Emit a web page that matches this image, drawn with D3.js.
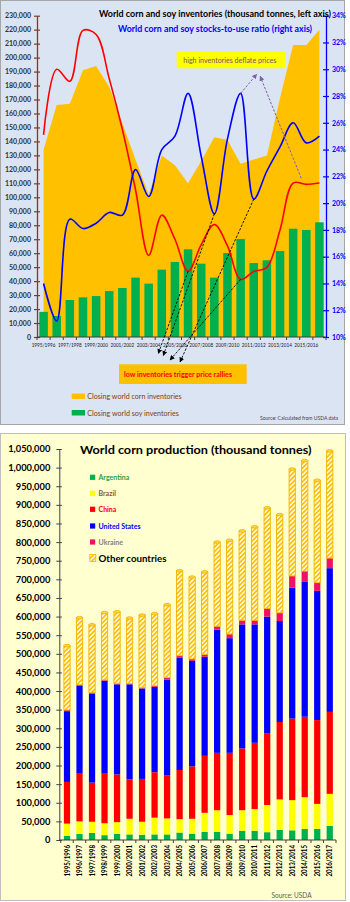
<!DOCTYPE html>
<html><head><meta charset="utf-8">
<script src="https://cdn.jsdelivr.net/npm/d3@7"></script>
<style>body{margin:0;background:#fff}svg{display:block}text{font-family:Lato,"Open Sans",sans-serif}</style>
</head><body><svg id="c" width="350" height="902"></svg>
<script>
// ---------- DATA ----------
const seasons = ["1995/1996","1996/1997","1997/1998","1998/1999","1999/2000","2000/2001","2001/2002","2002/2003","2003/2004","2004/2005","2005/2006","2006/2007","2007/2008","2008/2009","2009/2010","2010/2011","2011/2012","2012/2013","2013/2014","2014/2015","2015/2016","2016/2017"];
// top chart (thousand tonnes / %)
const cornStocks = [134000,166000,167000,191000,194000,179000,153000,127000,102000,130000,123000,110000,126000,143000,141000,124000,127000,130000,171000,209000,209000,220000];
const soyStocks = [18000,15000,26500,28400,29300,32900,35100,42500,38200,48200,53700,62800,52500,42500,60100,70200,53000,54900,61600,77500,76600,82100];
const cornStocksToUse = [25.1,30.0,29.1,32.9,32.6,29.3,25.5,21.0,16.1,19.1,17.3,14.9,16.9,18.4,16.8,14.3,14.9,15.2,18.0,21.5,21.4,21.5];
const soyStocksToUse = [14.0,11.2,18.8,18.1,18.5,19.3,19.1,22.5,20.5,24.0,25.0,28.2,23.5,19.2,24.8,28.2,20.3,22.4,24.2,26.0,24.5,25.0];
const leftTicks = d3.range(0, 230001, 10000);
const rightTicks = [0.10,0.12,0.14,0.16,0.18,0.20,0.22,0.24,0.26,0.28,0.30,0.32,0.34];
// bottom chart (thousand tonnes)
const countries = ["Argentina","Brazil","China","United States","Ukraine","Other countries"];
const argentina = [11000,16000,19000,13000,17000,15000,14000,15000,15000,20000,17000,22000,22000,17000,25000,25000,21000,27000,26000,30000,30000,38000];
const brazil = [33000,34000,30000,32000,31000,42000,35000,45000,43000,36000,40000,51000,58000,50000,55000,58000,73000,82000,81000,85000,67000,86000];
const china = [112000,128000,105000,133000,128000,106000,115000,122000,115000,132000,141000,153000,154000,167000,166000,178000,193000,208000,219000,216000,225000,220000];
const unitedStates = [190000,236000,239000,250000,242000,255000,243000,229000,258000,301000,283000,266000,331000,308000,333000,318000,313000,271000,352000,362000,347000,386000];
const ukraine = [3000,3000,3000,2000,2000,2000,2000,3000,5000,6000,5000,6000,9000,11000,11000,11000,22000,22000,31000,29000,22000,27000];
const otherCountries = [173000,180000,182000,181000,193000,176000,195000,194000,196000,228000,220000,222000,226000,252000,240000,251000,270000,264000,287000,297000,275000,288000];
const prodTicks = d3.range(0, 1050001, 50000);

// ---------- SETUP ----------
const svg = d3.select("#c");
const defs = svg.append("defs");
const hatch = defs.append("pattern").attr("id","hatch").attr("patternUnits","userSpaceOnUse")
  .attr("width",3.2).attr("height",3.2).attr("patternTransform","rotate(45)");
hatch.append("rect").attr("width",3.2).attr("height",3.2).attr("fill","#ffffff");
hatch.append("rect").attr("width",1.8).attr("height",3.2).attr("fill","#ffc000");
function marker(id, color){
  defs.append("marker").attr("id",id).attr("viewBox","0 0 10 10").attr("refX",9).attr("refY",5)
    .attr("markerWidth",5).attr("markerHeight",5).attr("markerUnits","userSpaceOnUse").attr("orient","auto")
    .append("path").attr("d","M0,0L10,5L0,10z").attr("fill",color);
}
marker("mp","#7f5fa8"); marker("mb","#000");

// panels
svg.append("rect").attr("x",0.5).attr("y",0.5).attr("width",344).attr("height",424)
  .attr("fill","#dbe4f2").attr("stroke","#a6a6a6");
svg.append("rect").attr("x",0.5).attr("y",433.5).attr("width",345).attr("height",467)
  .attr("fill","#ffffcf").attr("stroke","#bfbfbf");

// ---------- TOP CHART ----------
const x1 = d3.scaleBand().domain(seasons).range([37,326]).paddingInner(0.35).paddingOuter(0.175);
const yL = d3.scaleLinear().domain([0,230000]).range([337,15.7]);
const yR = d3.scaleLinear().domain([0.10,0.34]).range([337,15.7]);
const c1 = s => x1(s) + x1.bandwidth()/2;
const gTop = svg.append("g");

gTop.append("path").datum(seasons)
  .attr("d", d3.area().x(s=>c1(s)).y0(yL(0)).y1((s,i)=>yL(cornStocks[i])))
  .attr("fill","#ffc000");
gTop.selectAll("rect.soy").data(seasons).join("rect").attr("class","soy")
  .attr("x",s=>x1(s)).attr("width",x1.bandwidth())
  .attr("y",(s,i)=>yL(soyStocks[i])).attr("height",(s,i)=>yL(0)-yL(soyStocks[i]))
  .attr("fill","#00b050");
const lineR = arr => d3.line().x(s=>c1(s)).y((s,i)=>yR(arr[i]/100)).curve(d3.curveCatmullRom.alpha(0.5));
gTop.append("path").datum(seasons).attr("d",lineR(cornStocksToUse)).attr("fill","none").attr("stroke","#ff0000").attr("stroke-width",1.6);
gTop.append("path").datum(seasons).attr("d",lineR(soyStocksToUse)).attr("fill","none").attr("stroke","#0000ff").attr("stroke-width",1.6);

// left axis
const gl = gTop.append("g").attr("transform",`translate(${x1.range()[0]},0)`)
  .call(d3.axisLeft(yL).tickValues(leftTicks).tickFormat(d3.format(",")).tickSizeInner(3).tickSizeOuter(0).tickPadding(3));
gl.select(".domain").attr("stroke","#8b3a0f").attr("stroke-width",1.3);
gl.selectAll(".tick line").attr("x1",3).attr("stroke","#8b3a0f").attr("stroke-width",1.2);
gl.selectAll(".tick text").attr("font-size",7).attr("font-weight","bold").attr("fill","#333")
  .attr("font-family","Lato,sans-serif");
// right axis
const gr = gTop.append("g").attr("transform",`translate(${x1.range()[1]},0)`)
  .call(d3.axisRight(yR).tickValues(rightTicks).tickFormat(d3.format(".0%")).tickSizeInner(3).tickSizeOuter(0).tickPadding(3));
gr.select(".domain").attr("stroke","#0000ff").attr("stroke-width",1.3);
gr.selectAll(".tick line").attr("x1",-3).attr("stroke","#0000ff").attr("stroke-width",1.2);
gr.selectAll(".tick text").attr("font-size",7).attr("font-weight","bold").attr("fill","#0000ff")
  .attr("font-family","Lato,sans-serif");
// x axis
const r1 = x1.range();
gTop.append("line").attr("x1",r1[0]).attr("x2",r1[1]).attr("y1",yL(0)).attr("y2",yL(0)).attr("stroke","#404040").attr("stroke-width",1);
gTop.selectAll("line.xt").data(d3.range(seasons.length+1)).join("line").attr("class","xt")
  .attr("x1",i=>r1[0]+i*x1.step()).attr("x2",i=>r1[0]+i*x1.step())
  .attr("y1",yL(0)).attr("y2",yL(0)+3).attr("stroke","#404040");
gTop.selectAll("text.xl").data(seasons.filter((s,i)=>i%2===0)).join("text").attr("class","xl")
  .attr("x",s=>c1(s)).attr("y",yL(0)+10).attr("text-anchor","middle")
  .attr("font-size",5.2).attr("fill","#222").attr("textLength",x1.step()*2-2.4).attr("lengthAdjust","spacingAndGlyphs")
  .text(s=>s);

// titles
gTop.append("text").attr("x",99).attr("y",16.5).attr("font-size",9).attr("font-weight","bold").attr("fill","#000")
  .attr("textLength",232).attr("lengthAdjust","spacingAndGlyphs")
  .text("World corn and soy inventories (thousand tonnes, left axis)");
gTop.append("text").attr("x",118).attr("y",31.5).attr("font-size",9).attr("font-weight","bold").attr("fill","#0000ff")
  .attr("textLength",194).attr("lengthAdjust","spacingAndGlyphs")
  .text("World corn and soy stocks-to-use ratio (right axis)");

// annotation: high inventories
const hiBox = {x:176.7, y:51.7, w:108.3, h:16.6};
gTop.append("rect").attr("x",hiBox.x).attr("y",hiBox.y).attr("width",hiBox.w).attr("height",hiBox.h).attr("fill","#ffff00");
gTop.append("text").attr("x",hiBox.x+6.6).attr("y",hiBox.y+11.3).attr("font-size",6.8).attr("fill","#7a4f6e")
  .attr("textLength",93).attr("lengthAdjust","spacingAndGlyphs").text("high inventories deflate prices");
const hiArrows = [
  {from:[c1("2010/2011"), yR(soyStocksToUse[15]/100)], to:[hiBox.x+80, hiBox.y+hiBox.h+6]},
  {from:[c1("2015/2016")-5, yR(cornStocksToUse[20]/100)-6], to:[hiBox.x+83.5, hiBox.y+hiBox.h+8]}
];
gTop.selectAll("line.ha").data(hiArrows).join("line").attr("class","ha")
  .attr("x1",d=>d.from[0]).attr("y1",d=>d.from[1]).attr("x2",d=>d.to[0]).attr("y2",d=>d.to[1])
  .attr("stroke","#7f5fa8").attr("stroke-width",1).attr("stroke-dasharray","2.5,1.5").attr("marker-end","url(#mp)");

// annotation: low inventories
const loBox = {x:119, y:364.3, w:127.7, h:19.7};
gTop.append("rect").attr("x",loBox.x).attr("y",loBox.y).attr("width",loBox.w).attr("height",loBox.h).attr("fill","#ffc000");
gTop.append("text").attr("x",loBox.x+5).attr("y",loBox.y+12.8).attr("font-size",7.2).attr("font-weight","bold").attr("fill","#ff0000")
  .attr("textLength",108).attr("lengthAdjust","spacingAndGlyphs").text("low inventories trigger price rallies");
const loArrows = [
  {from:[c1("2006/2007"), yR(cornStocksToUse[11]/100)], to:[158.3,353.5]},
  {from:[c1("2008/2009"), yR(soyStocksToUse[13]/100)], to:[163.3,355.5]},
  {from:[c1("2010/2011"), yR(cornStocksToUse[15]/100)], to:[170,360]},
  {from:[c1("2011/2012"), yR(soyStocksToUse[16]/100)], to:[180,362]}
];
gTop.selectAll("line.la").data(loArrows).join("line").attr("class","la")
  .attr("x1",d=>d.from[0]).attr("y1",d=>d.from[1]).attr("x2",d=>d.to[0]).attr("y2",d=>d.to[1])
  .attr("stroke","#000").attr("stroke-width",0.9).attr("stroke-dasharray","2.5,1.5").attr("marker-end","url(#mb)");

// legend top
const topLegend = [{label:"Closing world corn inventories", color:"#ffc000"},{label:"Closing world soy inventories", color:"#00b050"}];
topLegend.forEach((d,i)=>{
  const y = 393.5 + i*16.5;
  gTop.append("rect").attr("x",71.7).attr("y",y).attr("width",13.3).attr("height",5.5).attr("fill",d.color);
  gTop.append("text").attr("x",87.3).attr("y",y+5.5).attr("font-size",7.2).attr("fill","#843c0c")
    .attr("textLength",i===0?94.4:91.5).attr("lengthAdjust","spacingAndGlyphs").text(d.label);
});
gTop.append("text").attr("x",338).attr("y",420).attr("text-anchor","end").attr("font-size",5.2).attr("fill","#404040")
  .attr("textLength",78).attr("lengthAdjust","spacingAndGlyphs").text("Source: Calculated from USDA data");

// ---------- BOTTOM CHART ----------
const x2 = d3.scaleBand().domain(seasons).range([60.75,336]).paddingInner(0.5).paddingOuter(0.25);
const y2 = d3.scaleLinear().domain([0,1050000]).range([840,449]);
const c2 = s => x2(s) + x2.bandwidth()/2;
const gBot = svg.append("g");
const series = [argentina, brazil, china, unitedStates, ukraine, otherCountries];
const rows = seasons.map((s,i)=>{ const r={season:s}; countries.forEach((c,k)=>r[c]=series[k][i]); return r; });
const stacked = d3.stack().keys(countries)(rows);
const fills = {"Argentina":"#00b050","Brazil":"#ffff00","China":"#ff0000","United States":"#0000ff","Ukraine":"#ee1166","Other countries":"url(#hatch)"};

stacked.forEach(layer=>{
  const isOther = layer.key==="Other countries";
  gBot.selectAll(null).data(layer).join("rect")
    .attr("x",d=>x2(d.data.season)).attr("width",x2.bandwidth())
    .attr("y",d=>y2(d[1])).attr("height",d=>y2(d[0])-y2(d[1]))
    .attr("fill",fills[layer.key])
    .attr("stroke",isOther?"#f0b400":"none").attr("stroke-width",isOther?0.9:0);
  if(isOther){
    gBot.selectAll(null).data(layer).join("ellipse")
      .attr("cx",d=>c2(d.data.season)).attr("cy",d=>y2(d[1]))
      .attr("rx",x2.bandwidth()/2).attr("ry",1.3)
      .attr("fill","#ffd54a").attr("stroke","#f0b400").attr("stroke-width",0.8);
  }
});

// y axis
const gy2 = gBot.append("g").attr("transform",`translate(59.3,0)`)
  .call(d3.axisLeft(y2).tickValues(prodTicks).tickFormat(d3.format(",")).tickSizeInner(3).tickSizeOuter(0).tickPadding(6));
gy2.select(".domain").attr("stroke","#404040");
gy2.selectAll(".tick line").attr("x1",2.5).attr("stroke","#404040");
gy2.selectAll(".tick text").attr("font-size",9.3).attr("font-weight","bold").attr("fill","#000").attr("font-family","Lato,sans-serif");
// x axis
const r2 = x2.range();
gBot.append("line").attr("x1",59.3).attr("x2",r2[1]).attr("y1",y2(0)).attr("y2",y2(0)).attr("stroke","#404040");
gBot.selectAll("line.xt2").data(d3.range(seasons.length+1)).join("line").attr("class","xt2")
  .attr("x1",i=>r2[0]+i*x2.step()).attr("x2",i=>r2[0]+i*x2.step())
  .attr("y1",y2(0)).attr("y2",y2(0)+3).attr("stroke","#404040");
gBot.selectAll("text.xl2").data(seasons).join("text").attr("class","xl2")
  .attr("transform",s=>`translate(${c2(s)+2.6},${y2(0)+5}) rotate(-90)`)
  .attr("text-anchor","end").attr("font-size",7.6).attr("font-weight","bold").attr("fill","#000")
  .attr("textLength",31.5).attr("lengthAdjust","spacingAndGlyphs").text(s=>s);

// title
gBot.append("text").attr("x",80).attr("y",453.5).attr("font-size",11).attr("font-weight","bold").attr("fill","#000")
  .attr("textLength",231.5).attr("lengthAdjust","spacingAndGlyphs").text("World corn production (thousand tonnes)");

// legend
const legCols = ["#2e9e48","#8b5a2b","#ff0000","#0000ff","#7f7f7f"];
const legY = [477.3,493.3,509.3,526,542];
countries.slice(0,5).forEach((c,i)=>{
  gBot.append("rect").attr("x",90).attr("y",legY[i]-2.6).attr("width",5.2).attr("height",5.2).attr("fill",fills[c]);
  gBot.append("text").attr("x",98.5).attr("y",legY[i]+2.5).attr("font-size",7).attr("font-weight","bold")
    .attr("fill",legCols[i]).text(c);
});
gBot.append("rect").attr("x",89.8).attr("y",554.6).attr("width",6).attr("height",7).attr("fill","url(#hatch)").attr("stroke","#f0b400").attr("stroke-width",0.8);
gBot.append("text").attr("x",98.5).attr("y",561.5).attr("font-size",9).attr("font-weight","bold").attr("fill","#000")
  .attr("textLength",68).attr("lengthAdjust","spacingAndGlyphs").text("Other countries");
gBot.append("text").attr("x",311.5).attr("y",898).attr("text-anchor","end").attr("font-size",7.6).attr("fill","#595959")
  .attr("textLength",40).attr("lengthAdjust","spacingAndGlyphs").text("Source: USDA");
</script></body></html>
